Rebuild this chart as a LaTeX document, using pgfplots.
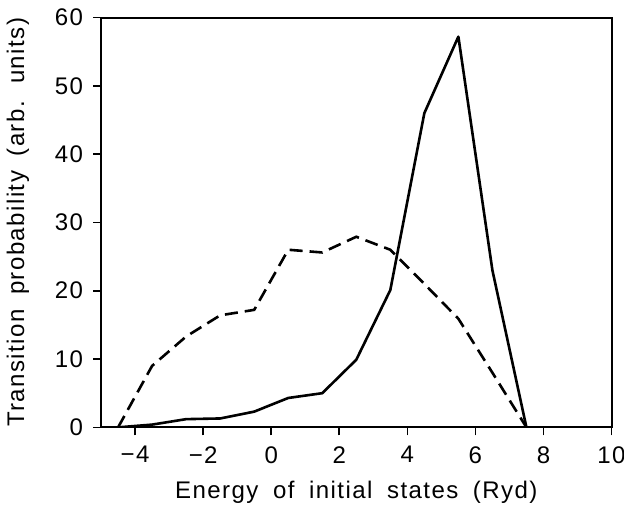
\documentclass[border=0pt]{standalone}
\usepackage{fontspec}
\setmainfont{Liberation Sans}[LetterSpace=6,WordSpace=1.8]
\usepackage{pgfplots}
\pgfplotsset{compat=1.18}

\begin{document}
\begin{tikzpicture}
\begin{axis}[
  scale only axis, width=255pt, height=204.75pt,
  xmin=-5, xmax=10, ymin=0, ymax=60,
  xtick={-4,-2,...,10}, xticklabels={−4,−2,0,2,4,6,8,10},
  ytick={0,10,...,60}, yticklabels={0,10,20,30,40,50,60},
  tick pos=left, tick align=outside, major tick length=4pt,
  axis line style={line width=1pt},
  every tick/.style={black, line width=0.8pt},
  font=\fontsize{12}{14}\selectfont,
  xticklabel style={yshift=-2pt},
  yticklabel style={xshift=-1.5pt},
  xlabel={Energy of initial states (Ryd)},
  ylabel={Transition probability (arb. units)},
  xlabel style={at={(axis description cs:0.5,0)}, anchor=center, yshift=-32.5pt},
  ylabel style={at={(axis description cs:0,0.5)}, anchor=center, yshift=41.5pt},
]
\coordinate (sw) at (rel axis cs:0,0);
\coordinate (ne) at (rel axis cs:1,1);
% solid curve
\addplot[black, line width=1.3pt, line join=round] coordinates {
  (-4.5,0) (-3.5,0.4) (-2.5,1.2) (-1.5,1.3) (-0.5,2.3) (0.5,4.3)
  (1.5,5.0) (2.5,9.9) (3.5,20.1) (4.5,46.0) (5.5,57.2) (6.5,23.0)
  (7.5,0) (10,0)
};
% dashed curve
\addplot[black, line width=1.3pt, dash pattern=on 6.5pt off 3.5pt] coordinates {
  (-4.5,0) (-3.5,9.0) (-2.5,13.3) (-1.5,16.4) (-0.5,17.2) (0.5,26.0)
  (1.5,25.6) (2.5,27.9) (3.5,26.0) (4.5,21.0) (5.5,15.9) (6.5,8.0)
  (7.5,0)
};
\end{axis}
\pgfresetboundingbox
\useasboundingbox ([shift={(-50.5pt,-42pt)}]sw) rectangle ([shift={(6.25pt,8.75pt)}]ne);
\end{tikzpicture}
\end{document}
